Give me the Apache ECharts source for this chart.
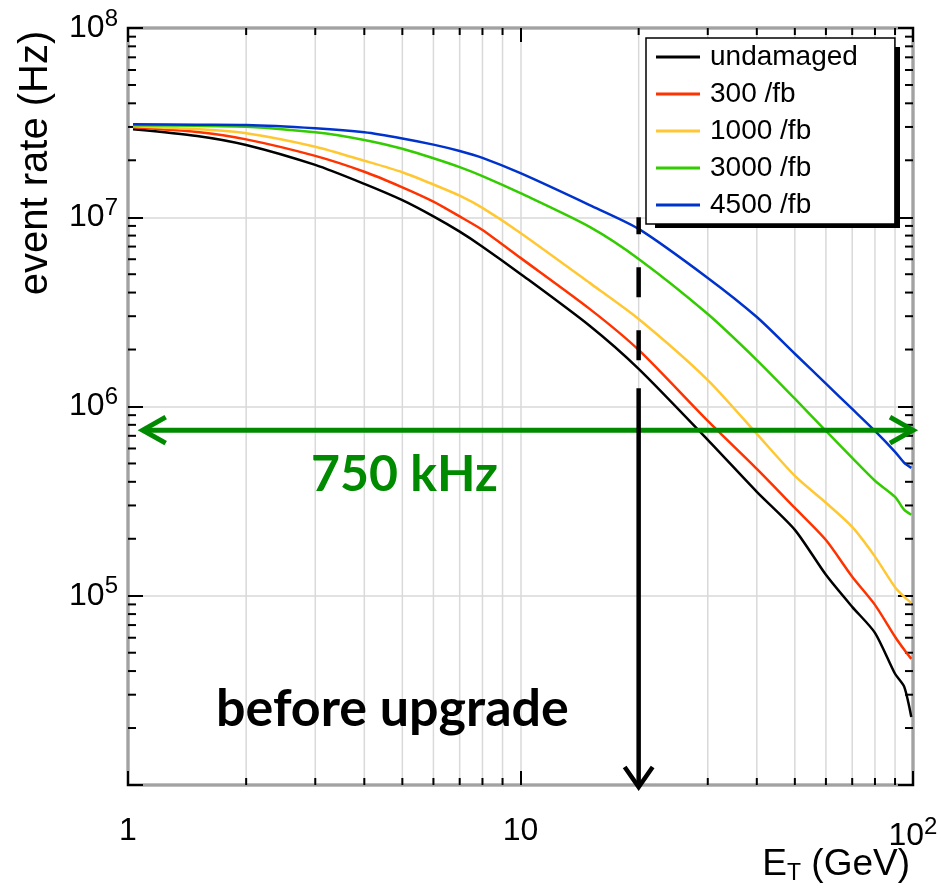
<!DOCTYPE html>
<html>
<head>
<meta charset="utf-8">
<script src="https://cdn.jsdelivr.net/npm/echarts@6/dist/echarts.min.js"></script>
<style>
  html, body { margin: 0; padding: 0; background: #fff; }
  #chart { width: 941px; height: 893px; }
</style>
</head>
<body>
<div id="chart"></div>
<script>
// Transverse energy threshold (GeV)
const energies = [1.03, 1.5, 2, 3, 4, 5, 6, 7, 8, 10, 15, 20, 30, 40, 50, 60, 70, 80, 90, 95, 99];

// Event rate (Hz) above threshold, per radiation-damage scenario
const rateUndamaged = [2.92e7, 2.69e7, 2.41e7, 1.89e7, 1.50e7, 1.23e7, 1.01e7, 8.39e6, 6.99e6, 5.02e6, 2.67e6, 1.58e6, 6.66e5, 3.54e5, 2.23e5, 1.29e5, 8.74e4, 6.37e4, 3.87e4, 3.30e4, 2.29e4];
const rate300 = [2.99e7, 2.82e7, 2.58e7, 2.11e7, 1.74e7, 1.44e7, 1.21e7, 1.01e7, 8.57e6, 6.10e6, 3.28e6, 1.99e6, 8.39e5, 4.68e5, 2.91e5, 1.97e5, 1.26e5, 8.95e4, 6.07e4, 5.18e4, 4.64e4];
const rate1000 = [3.03e7, 2.92e7, 2.78e7, 2.36e7, 1.99e7, 1.73e7, 1.49e7, 1.30e7, 1.12e7, 8.26e6, 4.50e6, 2.90e6, 1.38e6, 7.17e5, 4.30e5, 3.10e5, 2.31e5, 1.61e5, 1.11e5, 9.87e4, 9.17e4];
const rate3000 = [3.06e7, 3.04e7, 3.01e7, 2.81e7, 2.56e7, 2.30e7, 2.05e7, 1.84e7, 1.65e7, 1.34e7, 8.89e6, 6.02e6, 3.08e6, 1.76e6, 1.10e6, 7.43e5, 5.35e5, 4.05e5, 3.33e5, 2.84e5, 2.68e5];
const rate4500 = [3.10e7, 3.08e7, 3.07e7, 2.95e7, 2.81e7, 2.61e7, 2.42e7, 2.24e7, 2.06e7, 1.71e7, 1.16e7, 8.68e6, 4.78e6, 2.97e6, 1.90e6, 1.32e6, 9.71e5, 7.43e5, 5.76e5, 5.04e5, 4.74e5];

const seriesNames = ['undamaged', '300 /fb', '1000 /fb', '3000 /fb', '4500 /fb'];
const seriesRates = [rateUndamaged, rate300, rate1000, rate3000, rate4500];
const seriesColors = ['#000000', '#ff3300', '#ffc833', '#33cc00', '#0033cc'];

// Axis ranges and labelled decades
const xRange = [1, 100];
const yRange = [1e4, 1e8];
const xLabelExps = [0, 1, 2];
const yLabelExps = [5, 6, 7, 8];

// Minor tick positions
const xMinorTicks = [2, 3, 4, 5, 6, 7, 8, 9, 20, 30, 40, 50, 60, 70, 80, 90];
const yMinorTicks = [];
[1e4, 1e5, 1e6, 1e7].forEach(d => { for (let k = 2; k <= 9; k++) yMinorTicks.push(k * d); });

// Annotations
const rateLimit = 750000;           // 750 kHz trigger budget
const rateArrowX = [1.09, 100];
const upgradeThreshold = 20;       // GeV
const thresholdArrowY = [1e7, 1.25e6, 1e4];  // dashed top, dash end, arrow tip

const FONT = '"Liberation Sans", Arial, Helvetica, sans-serif';
const ANN_FONT = 'Lato, "Open Sans", sans-serif';
const greenAnn = '#008a00';

const chart = echarts.init(document.getElementById('chart'), null, { renderer: 'canvas' });

function supLabel(e) {
  if (e === 0) return '{b|1}';
  if (e === 1) return '{b|10}';
  return '{b|10}{s|' + e + '}';
}
const tickRich = {
  b: { fontFamily: FONT, fontSize: 32, color: '#000' },
  s: { fontFamily: FONT, fontSize: 24, color: '#000', padding: [0, 0, 18, 0] }
};

function renderMinor(params, api) {
  const cs = params.coordSys;
  const kind = api.value(2);
  const p = api.coord([api.value(0), api.value(1)]);
  const grid = { stroke: '#d9d9d9', lineWidth: 1.5 };
  const tick = { stroke: '#000', lineWidth: 2 };
  if (kind === 0) {
    const x = p[0];
    return { type: 'group', children: [
      { type: 'line', shape: { x1: x, y1: cs.y, x2: x, y2: cs.y + cs.height }, style: grid },
      { type: 'line', shape: { x1: x, y1: cs.y + cs.height, x2: x, y2: cs.y + cs.height - 7 }, style: tick },
      { type: 'line', shape: { x1: x, y1: cs.y, x2: x, y2: cs.y + 7 }, style: tick }
    ]};
  }
  const y = p[1];
  return { type: 'group', children: [
    { type: 'line', shape: { x1: cs.x, y1: y, x2: cs.x + 8, y2: y }, style: tick },
    { type: 'line', shape: { x1: cs.x + cs.width, y1: y, x2: cs.x + cs.width - 8, y2: y }, style: tick }
  ]};
}

function renderRateArrow(params, api) {
  const a = api.coord([api.value(0), api.value(1)]);
  const b = api.coord([api.value(2), api.value(1)]);
  const hx = 23, hy = 13;
  const st = { stroke: greenAnn, lineWidth: 5, fill: null };
  return { type: 'group', children: [
    { type: 'line', shape: { x1: a[0] + 2, y1: a[1], x2: b[0] - 2, y2: b[1] }, style: st },
    { type: 'polyline', shape: { points: [[a[0] + hx, a[1] - hy], [a[0], a[1]], [a[0] + hx, a[1] + hy]] }, style: st },
    { type: 'polyline', shape: { points: [[b[0] - hx, b[1] - hy], [b[0], b[1]], [b[0] - hx, b[1] + hy]] }, style: st }
  ]};
}

function renderThresholdArrow(params, api) {
  const x = api.value(0);
  const top = api.coord([x, api.value(1)]);
  const mid = api.coord([x, api.value(2)]);
  const tip = api.coord([x, api.value(3)]);
  const tx = tip[0], ty = tip[1] + 2;
  const st = { stroke: '#000', lineWidth: 4.5, fill: null };
  return { type: 'group', children: [
    { type: 'line', shape: { x1: top[0], y1: top[1], x2: mid[0], y2: mid[1] },
      style: { stroke: '#000', lineWidth: 4.5, lineDash: [30, 33], lineDashOffset: 13 } },
    { type: 'line', shape: { x1: mid[0], y1: mid[1], x2: tx, y2: ty - 2 }, style: st },
    { type: 'polyline', shape: { points: [[tx - 14, ty - 20], [tx, ty], [tx + 14, ty - 20]] }, style: st }
  ]};
}

const minorData = xMinorTicks.map(v => [v, 1e6, 0]).concat(yMinorTicks.map(v => [1.5, v, 1]));

const lineSeries = seriesNames.map((name, i) => ({
  name: name,
  type: 'line',
  data: energies.map((e, j) => [e, seriesRates[i][j]]),
  showSymbol: false,
  symbol: 'none',
  smooth: 0.25,
  clip: true,
  z: 3,
  lineStyle: { color: seriesColors[i], width: 2.5 },
  itemStyle: { color: seriesColors[i] }
}));

const option = {
  animation: false,
  backgroundColor: '#fff',
  grid: { left: 128, top: 28, width: 785, height: 757, show: true, borderColor: '#000', borderWidth: 2.5, backgroundColor: 'transparent' },
  xAxis: [
    { type: 'log', logBase: 10, min: xRange[0], max: xRange[1], splitNumber: 2, position: 'bottom',
      axisLine: { show: false },
      axisTick: { inside: true, length: 14, lineStyle: { color: '#000', width: 2 } },
      axisLabel: { margin: 30, formatter: v => { const e = Math.round(Math.log10(v)); return xLabelExps.includes(e) ? supLabel(e) : ''; }, rich: tickRich },
      splitLine: { show: true, lineStyle: { color: '#d9d9d9', width: 1.5 } } },
    { type: 'log', logBase: 10, min: xRange[0], max: xRange[1], splitNumber: 2, position: 'top',
      axisLine: { show: false },
      axisTick: { inside: true, length: 14, lineStyle: { color: '#000', width: 2 } },
      axisLabel: { show: false }, splitLine: { show: false } }
  ],
  yAxis: [
    { type: 'log', logBase: 10, min: yRange[0], max: yRange[1], splitNumber: 4, position: 'left',
      axisLine: { show: false },
      axisTick: { inside: true, length: 15, lineStyle: { color: '#000', width: 2 } },
      axisLabel: { margin: 10, formatter: v => { const e = Math.round(Math.log10(v)); return yLabelExps.includes(e) ? supLabel(e) : ''; }, rich: tickRich },
      splitLine: { show: true, lineStyle: { color: '#d9d9d9', width: 1.5 } } },
    { type: 'log', logBase: 10, min: yRange[0], max: yRange[1], splitNumber: 4, position: 'right',
      axisLine: { show: false },
      axisTick: { inside: true, length: 15, lineStyle: { color: '#000', width: 2 } },
      axisLabel: { show: false }, splitLine: { show: false } }
  ],
  legend: {
    data: seriesNames,
    orient: 'vertical',
    left: 646, top: 38, z: 20,
    icon: 'rect', itemWidth: 44, itemHeight: 3, itemGap: 7,
    padding: [4, 37, 4, 10],
    backgroundColor: '#fff', borderColor: '#000', borderWidth: 1.5,
    selectedMode: false,
    textStyle: { fontFamily: FONT, fontSize: 28, color: '#000', lineHeight: 30, padding: [0, 0, 0, 5] }
  },
  graphic: [
    // drop shadow behind the legend box
    { type: 'rect', z: 19, shape: { x: 655, y: 47, width: 245, height: 181 }, style: { fill: '#000' } },
    { type: 'text', x: 36, y: 163, rotation: Math.PI / 2,
      style: { text: 'event rate (Hz)', font: '40px ' + FONT, fill: '#000', align: 'center', verticalAlign: 'middle' } },
    { type: 'text', right: 31, top: 846,
      style: { text: '{e|E}{t|T}{g| (GeV)}', fill: '#000',
        rich: { e: { fontFamily: FONT, fontSize: 37 }, t: { fontFamily: FONT, fontSize: 23, padding: [18, 0, 0, 0] }, g: { fontFamily: FONT, fontSize: 37 } } } },
    { type: 'text', x: 311, y: 475, z: 10,
      style: { text: '750 kHz', font: 'bold 50px ' + ANN_FONT, fill: greenAnn, align: 'left', verticalAlign: 'middle' } },
    { type: 'text', x: 216, y: 709, z: 10,
      style: { text: 'before upgrade', font: 'bold 52px ' + ANN_FONT, fill: '#000', align: 'left', verticalAlign: 'middle' } }
  ],
  series: [
    { type: 'custom', name: 'minor', renderItem: renderMinor, data: minorData, z: 1, silent: true,
      encode: { x: 0, y: 1 } }
  ].concat(lineSeries).concat([
    { type: 'custom', name: 'rateLimit', renderItem: renderRateArrow, z: 5, silent: true,
      data: [[rateArrowX[0], rateLimit, rateArrowX[1]]], encode: { x: [0, 2], y: 1 } },
    { type: 'custom', name: 'threshold', renderItem: renderThresholdArrow, z: 6, silent: true,
      data: [[upgradeThreshold].concat(thresholdArrowY)], encode: { x: 0, y: [1, 2, 3] } }
  ])
};

chart.setOption(option);
</script>
</body>
</html>
